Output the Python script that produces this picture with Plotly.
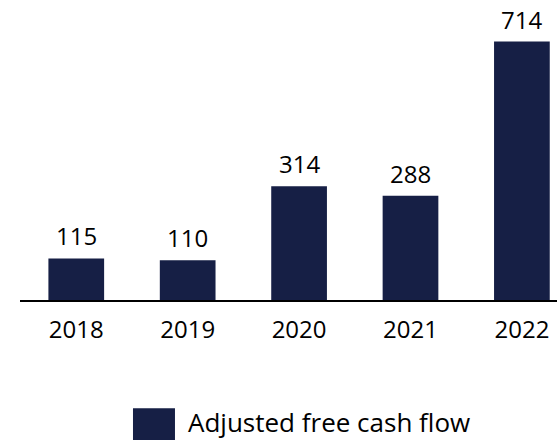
import plotly.graph_objects as go

years = ["2018", "2019", "2020", "2021", "2022"]
values = [115, 110, 314, 288, 714]
series_name = "Adjusted free cash flow"

BAR_COLOR = "#161f45"
FONT = "Open Sans"

fig = go.Figure()
fig.add_trace(go.Bar(
    x=years, y=values, name=series_name,
    marker=dict(color=BAR_COLOR, line=dict(width=0)),
    showlegend=False,
))
for i, v in enumerate(values):
    fig.add_annotation(x=i, y=v, xref="x", yref="y", text=str(v),
                       showarrow=False, yanchor="bottom", yshift=4,
                       font=dict(family=FONT, size=24, color="#000000"))

# legend key (manual, to match the large square swatch)
fig.add_shape(type="rect", xref="paper", yref="paper",
              x0=0.2104, x1=0.2886, y0=-0.361, y1=-0.5008,
              fillcolor=BAR_COLOR, line=dict(width=0))
fig.add_annotation(xref="paper", yref="paper", x=0.309, y=-0.408,
                   xanchor="left", yanchor="middle", showarrow=False,
                   text=series_name, font=dict(family=FONT, size=26, color="#000000"))

fig.update_layout(
    width=557, height=440,
    margin=dict(l=20, r=0, t=0, b=139.5, pad=0),
    paper_bgcolor="white", plot_bgcolor="white",
    font=dict(family=FONT, size=24, color="#000000"),
    bargap=0.5,
    showlegend=False,
    xaxis=dict(type="category", range=[-0.505, 4.315], showline=True, linecolor="#000000",
               linewidth=1.5, ticks="", showgrid=False, tickfont=dict(size=24),
               ticklabelstandoff=7),
    yaxis=dict(range=[0, 829], visible=False, showgrid=False),
)
fig.write_html("out.html", config={"displayModeBar": False},
               post_script="document.body.style.margin='0';document.body.style.overflow='hidden';")
